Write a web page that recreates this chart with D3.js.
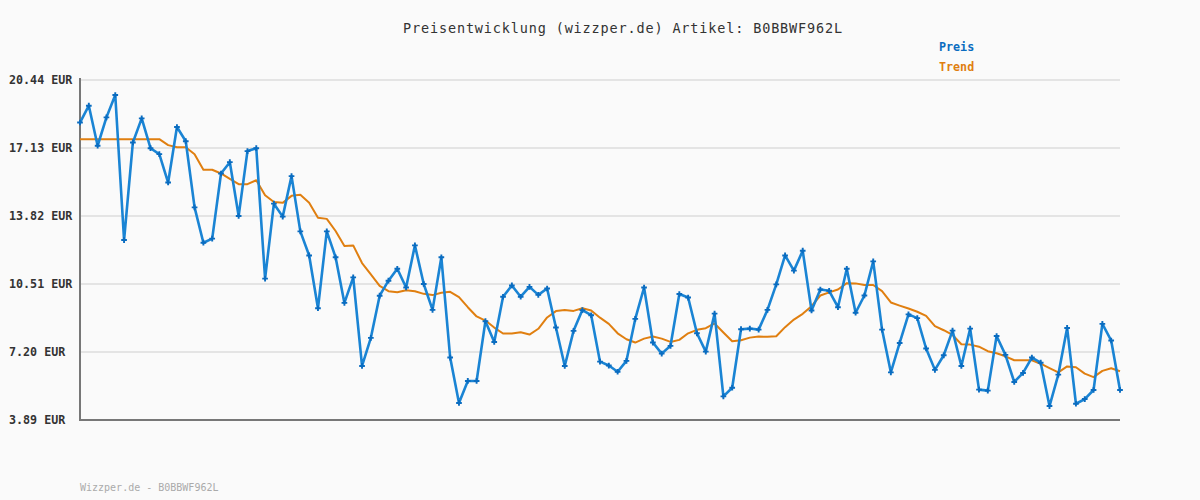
<!DOCTYPE html>
<html>
<head>
<meta charset="utf-8">
<script src="https://cdn.jsdelivr.net/npm/d3@7/dist/d3.min.js"></script>
<style>
  html, body { margin: 0; padding: 0; background: #fafafa; }
  svg { display: block; }
</style>
</head>
<body>
<svg id="chart" width="1200" height="500"></svg>
<script>
const titleText = "Preisentwicklung (wizzper.de) Artikel: B0BBWF962L";
const footerText = "Wizzper.de - B0BBWF962L";
const seriesNames = ["Preis", "Trend"];
const yTicks = [3.89, 7.20, 10.51, 13.82, 17.13, 20.44];
const yTickLabels = ["3.89 EUR", "7.20 EUR", "10.51 EUR", "13.82 EUR", "17.13 EUR", "20.44 EUR"];

const preis = [
  18.37, 19.19, 17.24, 18.62, 19.71, 12.65, 17.40, 18.57, 17.12, 16.83,
  15.45, 18.15, 17.46, 14.24, 12.52, 12.72, 15.89, 16.44, 13.82, 16.98,
  17.12, 10.77, 14.42, 13.79, 15.76, 13.07, 11.90, 9.33, 13.07, 11.81,
  9.59, 10.83, 6.52, 7.89, 9.94, 10.67, 11.25, 10.34, 12.39, 10.51,
  9.25, 11.81, 6.93, 4.72, 5.79, 5.79, 8.70, 7.69, 9.89, 10.44,
  9.89, 10.37, 9.98, 10.29, 8.39, 6.52, 8.23, 9.24, 8.99, 6.73,
  6.54, 6.24, 6.77, 8.81, 10.34, 7.66, 7.12, 7.50, 10.02, 9.85,
  8.11, 7.22, 9.07, 5.04, 5.46, 8.31, 8.34, 8.29, 9.25, 10.49,
  11.90, 11.16, 12.13, 9.22, 10.24, 10.18, 9.38, 11.25, 9.11, 9.95,
  11.61, 8.29, 6.21, 7.64, 9.03, 8.85, 7.37, 6.33, 7.04, 8.24,
  6.52, 8.34, 5.37, 5.32, 7.98, 7.06, 5.74, 6.18, 6.93, 6.68,
  4.57, 6.10, 8.37, 4.68, 4.91, 5.35, 8.57, 7.76, 5.35
];

const trend = [
  17.56, 17.56, 17.56, 17.56, 17.56, 17.56, 17.56, 17.56, 17.56, 17.56,
  17.27, 17.17, 17.17, 16.83, 16.07, 16.07, 15.89, 15.63, 15.37, 15.37,
  15.56, 14.83, 14.50, 14.46, 14.80, 14.85, 14.47, 13.74, 13.68, 13.09,
  12.36, 12.39, 11.53, 10.98, 10.42, 10.16, 10.11, 10.21, 10.16, 10.03,
  9.97, 10.08, 10.13, 9.87, 9.38, 8.93, 8.73, 8.39, 8.10, 8.10,
  8.16, 8.05, 8.33, 8.88, 9.19, 9.24, 9.20, 9.33, 9.22, 8.87,
  8.57, 8.11, 7.82, 7.66, 7.85, 7.95, 7.85, 7.69, 7.79, 8.11,
  8.28, 8.36, 8.59, 8.15, 7.72, 7.77, 7.90, 7.95, 7.94, 7.97,
  8.41, 8.78, 9.06, 9.43, 9.95, 10.10, 10.24, 10.55, 10.54, 10.46,
  10.46, 10.16, 9.61, 9.46, 9.32, 9.16, 8.96, 8.46, 8.26, 8.03,
  7.58, 7.56, 7.46, 7.24, 7.14, 6.99, 6.80, 6.80, 6.80, 6.63,
  6.42, 6.21, 6.50, 6.46, 6.15, 5.98, 6.28, 6.41, 6.26
];

const colors = { preis: "#1a84d4", marker: "#0a6cc0", trend: "#e07f10" };
const mono = "'DejaVu Sans Mono', 'Liberation Mono', monospace";

const svg = d3.select("#chart");
const plotLeft = 80, plotRight = 1120, plotTop = 80, plotBottom = 420;

svg.append("rect").attr("width", 1200).attr("height", 500).attr("fill", "#fafafa");

const x = d3.scaleLinear().domain([0, preis.length - 1]).range([plotLeft, plotRight]);
const y = d3.scaleLinear().domain([3.89, 20.44]).range([plotBottom, plotTop]);

// grid lines
svg.append("g").selectAll("line").data(yTicks.slice(1)).join("line")
  .attr("x1", plotLeft).attr("x2", plotRight)
  .attr("y1", d => y(d)).attr("y2", d => y(d))
  .attr("stroke", "#e4e4e4").attr("stroke-width", 2);

// y labels
svg.append("g").selectAll("text").data(yTicks).join("text")
  .attr("x", 9).attr("y", d => y(d)).attr("dy", "0.35em")
  .attr("font-family", mono).attr("font-size", "11.7px").attr("font-weight", "bold")
  .attr("fill", "#333")
  .text((d, i) => yTickLabels[i]);

// axes
svg.append("line").attr("x1", plotLeft).attr("x2", plotLeft).attr("y1", plotTop - 2).attr("y2", plotBottom + 1)
  .attr("stroke", "#777").attr("stroke-width", 2);
svg.append("line").attr("x1", plotLeft - 1).attr("x2", plotRight).attr("y1", plotBottom).attr("y2", plotBottom)
  .attr("stroke", "#777").attr("stroke-width", 2);

// trend line
const line = d3.line().x((d, i) => x(i)).y(d => y(d));
svg.append("path").datum(trend).attr("d", line)
  .attr("fill", "none").attr("stroke", colors.trend).attr("stroke-width", 2)
  .attr("stroke-linejoin", "round");

// price line
svg.append("path").datum(preis).attr("d", line)
  .attr("fill", "none").attr("stroke", colors.preis).attr("stroke-width", 2.6)
  .attr("stroke-linejoin", "round");

// markers
const cross = d3.symbol().type(d3.symbolCross).size(18);
svg.append("g").selectAll("path").data(preis).join("path")
  .attr("d", cross)
  .attr("transform", (d, i) => `translate(${x(i)},${y(d)})`)
  .attr("fill", colors.marker);

// title
svg.append("text").attr("x", 623).attr("y", 33).attr("text-anchor", "middle")
  .attr("font-family", mono).attr("font-size", "13.5px").attr("letter-spacing", "0.85px")
  .attr("fill", "#333").text(titleText);

// legend
svg.append("text").attr("x", 939).attr("y", 51)
  .attr("font-family", mono).attr("font-size", "11.7px").attr("font-weight", "bold")
  .attr("fill", colors.marker).text(seriesNames[0]);
svg.append("text").attr("x", 939).attr("y", 71)
  .attr("font-family", mono).attr("font-size", "11.7px").attr("font-weight", "bold")
  .attr("fill", colors.trend).text(seriesNames[1]);

// footer
svg.append("text").attr("x", 80).attr("y", 491)
  .attr("font-family", mono).attr("font-size", "10px")
  .attr("fill", "#aaa").text(footerText);
</script>
</body>
</html>
